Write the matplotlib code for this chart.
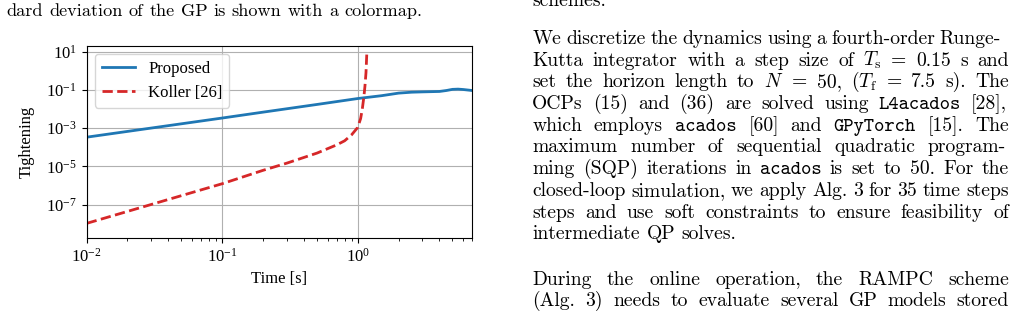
import matplotlib
matplotlib.use('Agg')
import matplotlib.pyplot as plt
from matplotlib.ticker import NullLocator, NullFormatter

plt.rcParams['font.family'] = 'Liberation Serif'
plt.rcParams['mathtext.fontset'] = 'stix'
plt.rcParams['font.size'] = 12

W, H = 1018, 311

# values
time_proposed = [0.01, 0.02, 0.05, 0.1, 0.2, 0.5, 1.0, 1.5, 2.0, 2.5, 3.0, 4.0, 4.5, 5.0, 5.5, 6.0, 7.0]
tight_proposed = [3.4e-4, 6.8e-4, 1.7e-3, 3.4e-3, 6.9e-3, 1.74e-2, 3.55e-2, 0.050, 0.068, 0.076,
                  0.079, 0.083, 0.093, 0.107, 0.110, 0.105, 0.093]
time_koller = [0.01, 0.02, 0.05, 0.1, 0.2, 0.3, 0.5, 0.7, 0.8, 0.9, 1.0, 1.05, 1.08, 1.11, 1.13, 1.15, 1.165]
tight_koller = [1.07e-8, 4.5e-8, 3.0e-7, 1.26e-6, 6.3e-6, 1.5e-5, 5.0e-5, 1.35e-4, 2.2e-4, 4.5e-4,
                1.1e-3, 3.2e-3, 1.0e-2, 4.5e-2, 0.16, 0.8, 7.0]
y_ticks = [1e1, 1e-1, 1e-3, 1e-5, 1e-7]

caption_line = 'dard deviation of the GP is shown with a colormap.'
# `word` -> typewriter
body_lines = [
    'schemes.',
    'We discretize the dynamics using a fourth-order Runge-',
    r'Kutta integrator with a step size of $T_\mathrm{s}$ = 0.15 s and',
    r'set the horizon length to $N$ = 50, $(T_\mathrm{f}$ = 7.5 s). The',
    'OCPs (15) and (36) are solved using `L4acados` [28],',
    'which employs `acados` [60] and `GPyTorch` [15]. The',
    'maximum number of sequential quadratic program-',
    'ming (SQP) iterations in `acados` is set to 50. For the',
    'closed-loop simulation, we apply Alg. 3 for 35 time steps',
    'steps and use soft constraints to ensure feasibility of',
    'intermediate QP solves.',
    'During the online operation, the RAMPC scheme',
    '(Alg. 3) needs to evaluate several GP models stored',
]
body_base = [6, 44, 65.7, 87.4, 109.1, 130.8, 152.5, 174.2, 195.9, 217.6, 239.3, 285, 306]
body_right = [None, 1001, 1009, 1009, 1007, 1009, 1006, 1009, 1009, 1009, None, 1009, 1009]

fig = plt.figure(figsize=(W / 100, H / 100), dpi=100)
renderer = fig.canvas.get_renderer()


def _word(x, y, w, size):
    fam = 'cmr10'
    if w.startswith('`'):
        fam = 'cmtt10'
        w = w.strip('`')
    return fig.text(x / W, 1 - y / H, w, fontsize=size, family=fam,
                    math_fontfamily='cm', ha='left', va='baseline')


def _line(text, left, base, size, right=None):
    words = [_word(left, base, w, size) for w in text.split(' ')]
    widths = [t.get_window_extent(renderer).width for t in words]
    gap = 0.333 * size * 100 / 72
    if right is not None and len(words) > 1:
        gap = (right - left - sum(widths)) / (len(words) - 1)
    x = left
    for t, w in zip(words, widths):
        t.set_x(x / W)
        x += w + gap


def _fit_size(text, width, fam='cmr10'):
    t = fig.text(0, 0, text, fontsize=10, family=fam)
    s = 10 * width / t.get_window_extent(renderer).width
    t.remove()
    return s


body_size = _fit_size('intermediate QP solves.', 205)
cap_size = _fit_size(caption_line, 416)

_line(caption_line, 6.7, 16, cap_size)
for txt, b, r in zip(body_lines, body_base, body_right):
    _line(txt, 532.3, b, body_size, r)

# chart
ax = fig.add_axes([86.7 / W, 1 - 237.7 / H, (472.3 - 86.7) / W, (237.7 - 45.7) / H])
ax.plot(time_proposed, tight_proposed, '-', c='#1f77b4', lw=2, label='Proposed')
ax.plot(time_koller, tight_koller, '--', c='#d62728', lw=2, label='Koller [26]')
ax.set_xscale('log')
ax.set_yscale('log')
ax.set_xlim(0.01, 7)
ax.set_ylim(10 ** -8.72, 10 ** 1.31)
ax.set_yticks(y_ticks)
ax.yaxis.set_minor_locator(NullLocator())
ax.xaxis.set_minor_formatter(NullFormatter())
ax.grid(True, which='major', color='#b0b0b0', lw=0.8)
ax.set_xlabel('Time [s]')
ax.set_ylabel('Tightening', labelpad=8)
ax.legend(loc='upper left')

fig.savefig('out.png', dpi=100)
